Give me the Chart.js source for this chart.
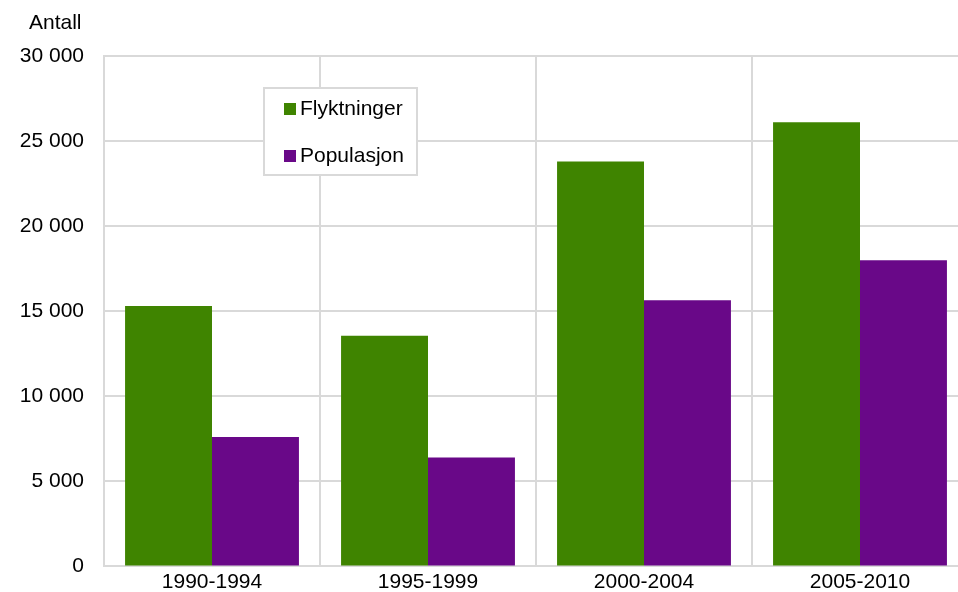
<!DOCTYPE html>
<html>
<head>
<meta charset="utf-8">
<script src="https://cdn.jsdelivr.net/npm/chart.js@4/dist/chart.umd.min.js"></script>
<style>
  html, body { margin: 0; padding: 0; overflow: hidden; background: #fff; }
  canvas { display: block; }
</style>
</head>
<body>
<canvas id="canvas-1" width="975" height="599"></canvas>
<script>
var categories = ['1990-1994', '1995-1999', '2000-2004', '2005-2010'];
var flyktninger = [15300, 13550, 23800, 26100];
var populasjon = [7600, 6400, 15650, 18000];
var yTicks = [0, 5000, 10000, 15000, 20000, 25000, 30000];

var gridColor = '#d9d9d9';
var fontFamily = '"Liberation Sans", Arial, sans-serif';
var fontSize = 21;

function fmt(v) {
  return String(v).replace(/\B(?=(\d{3})+(?!\d))/g, ' ');
}

// legend box and y-axis title drawn on the canvas
var extras = {
  id: 'extras',
  afterDraw: function (chart) {
    var ctx = chart.ctx;
    ctx.save();
    ctx.font = fontSize + 'px ' + fontFamily;
    ctx.fillStyle = '#000';
    ctx.textBaseline = 'middle';
    ctx.textAlign = 'left';
    ctx.fillText('Antall', 29, 23);

    // legend
    var bx = 264, by = 88, bw = 153, bh = 87;
    ctx.fillStyle = '#fff';
    ctx.fillRect(bx, by, bw, bh);
    ctx.strokeStyle = gridColor;
    ctx.lineWidth = 2;
    ctx.strokeRect(bx, by, bw, bh);
    chart.data.datasets.forEach(function (ds, i) {
      var y = 109 + i * 47;
      ctx.fillStyle = ds.backgroundColor;
      ctx.fillRect(284, y - 6, 12, 12);
      ctx.fillStyle = '#000';
      ctx.fillText(ds.label, 300, y);
    });
    ctx.restore();
  }
};

var ctx = document.getElementById('canvas-1');
var chart = new Chart(ctx, {
  type: 'bar',
  data: {
    labels: categories,
    datasets: [
      { label: 'Flyktninger', data: flyktninger, backgroundColor: '#3f8400' },
      { label: 'Populasjon', data: populasjon, backgroundColor: '#690888' }
    ]
  },
  options: {
    responsive: false,
    animation: false,
    layout: { padding: { top: 56, right: 7, left: 0, bottom: 0 } },
    datasets: { bar: { categoryPercentage: 0.805, barPercentage: 1.0 } },
    plugins: {
      legend: { display: false },
      tooltip: { enabled: false }
    },
    scales: {
      x: {
        grid: { color: gridColor, lineWidth: 2, drawTicks: false },
        border: { color: gridColor, width: 2 },
        ticks: { color: '#000', font: { family: fontFamily, size: fontSize }, padding: 3, maxRotation: 0 },
        afterFit: function (s) { s.height = 26; }
      },
      y: {
        min: 0,
        max: 30000,
        afterBuildTicks: function (s) {
          s.ticks = yTicks.map(function (v) { return { value: v }; });
        },
        grid: { color: gridColor, lineWidth: 2, drawTicks: false },
        border: { color: gridColor, width: 2 },
        ticks: {
          color: '#000',
          font: { family: fontFamily, size: fontSize },
          padding: 20,
          callback: function (v) { return fmt(v); }
        },
        afterFit: function (s) { s.width = 104; }
      }
    }
  },
  plugins: [extras]
});
</script>
</body>
</html>
